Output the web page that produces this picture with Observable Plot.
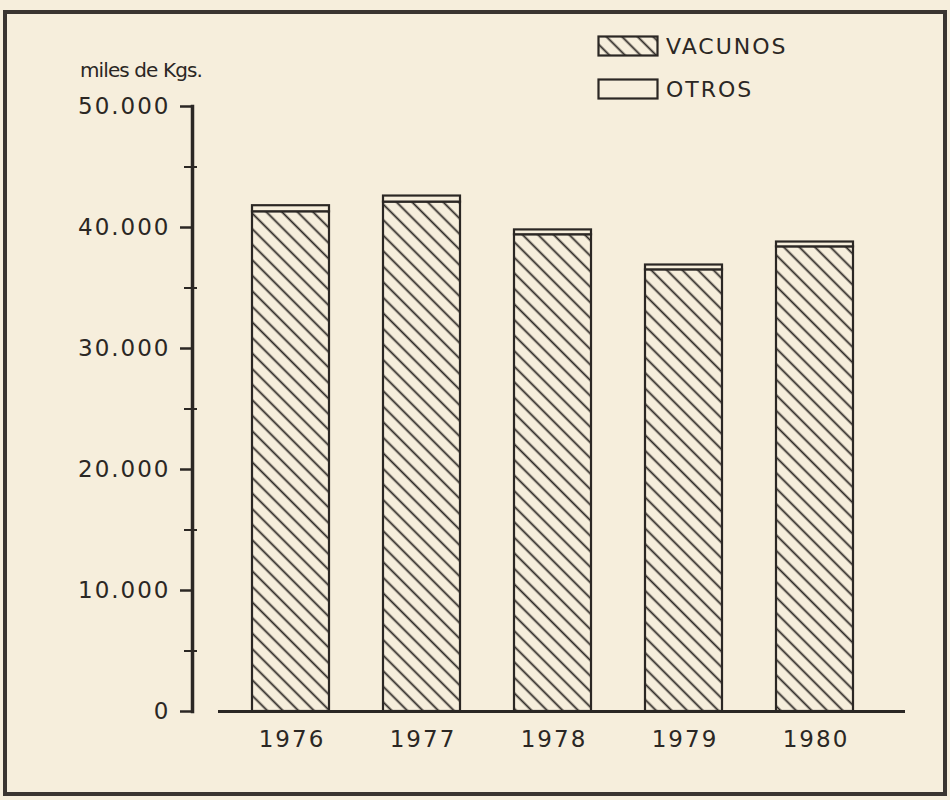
<!DOCTYPE html>
<html><head><meta charset="utf-8">
<script src="https://cdn.jsdelivr.net/npm/d3@7"></script>
<script src="https://cdn.jsdelivr.net/npm/@observablehq/plot@0.6"></script>
<style>
body{margin:0;background:#f6eedc;}
#wrap{position:relative;width:950px;height:800px;overflow:hidden;font-family:"DejaVu Sans",sans-serif;color:#2b2724;}
#chart{position:absolute;left:0;top:0;}
#chart svg text{letter-spacing:2px;}
#frame{position:absolute;left:3px;top:10px;width:936px;height:778px;border:4px solid #3a3531;pointer-events:none;}
#unit{position:absolute;left:80px;top:58px;font-size:20px;letter-spacing:-0.9px;}
#legend{position:absolute;left:597px;top:35px;}
.lg{display:flex;align-items:center;height:22px;margin-bottom:21px;}
.lg span{font-size:22px;letter-spacing:2px;margin-left:7px;}
</style></head>
<body><div id="wrap"><div id="chart"></div><div id="frame"></div><div id="unit">miles de Kgs.</div><div id="legend"></div></div>
<script>
const years = ["1976", "1977", "1978", "1979", "1980"];
const series = ["VACUNOS", "OTROS"];
const vacunos = [41300, 42100, 39400, 36500, 38400];
const otros = [500, 500, 400, 400, 400];
const yTicks = [0, 10000, 20000, 30000, 40000, 50000];
const yMinorTicks = [5000, 15000, 25000, 35000, 45000];

const ink = "#2b2724";
const paper = "#f6eedc";
const fills = {VACUNOS: "url(#hatch)", OTROS: paper};

const data = years.flatMap((year, i) => [
  {year, tipo: "VACUNOS", value: vacunos[i]},
  {year, tipo: "OTROS", value: otros[i]}
]);

const fmt = d => d3.format(",")(d).replace(/,/g, ".");

const chart = Plot.plot({
  width: 950,
  height: 800,
  marginLeft: 218,
  marginRight: 45,
  marginTop: 106,
  marginBottom: 89,
  style: {background: "transparent", color: ink, fontSize: "23px", fontFamily: "DejaVu Sans, sans-serif"},
  x: {domain: years, range: [218, 887], paddingInner: 0.415, paddingOuter: 0.25, label: null},
  y: {domain: [0, 50000], label: null},
  marks: [
    Plot.barY(data, Plot.stackY({
      x: "year", y: "value", order: series,
      fill: d => fills[d.tipo],
      stroke: ink, strokeWidth: 2.2
    })),
    Plot.ruleY([0], {stroke: ink, strokeWidth: 3}),
    Plot.frame({anchor: "left", dx: -26, stroke: ink, strokeWidth: 3.5}),
    Plot.axisY({ticks: yTicks, tickFormat: fmt, tickSize: 12, tickPadding: 10, dx: -26, strokeWidth: 2.5, stroke: ink, fill: ink, fontSize: 23}),
    Plot.axisY({ticks: yMinorTicks, tickFormat: () => "", tickSize: 13, dx: -21, strokeWidth: 2, stroke: ink}),
    Plot.axisX({tickSize: 0, tickPadding: 19, fill: ink, fontSize: 23, dx: 1})
  ]
});

// hatch pattern
const svg = d3.select(chart);
const defs = svg.insert("defs", ":first-child");
const pat = defs.append("pattern").attr("id", "hatch")
  .attr("patternUnits", "userSpaceOnUse").attr("width", 11).attr("height", 11)
  .attr("patternTransform", "rotate(-45)");
pat.append("rect").attr("width", 11).attr("height", 11).attr("fill", paper);
pat.append("line").attr("x1", 5.5).attr("x2", 5.5).attr("y1", 0).attr("y2", 11)
  .attr("stroke", ink).attr("stroke-width", 1.8);

document.getElementById("chart").appendChild(chart);

// legend
const legend = d3.select("#legend");
series.forEach(s => {
  const row = legend.append("div").attr("class", "lg");
  const sv = row.append("svg").attr("width", 62).attr("height", 22);
  const d = sv.append("defs").append("pattern").attr("id", "hatchL")
    .attr("patternUnits", "userSpaceOnUse").attr("width", 11).attr("height", 11)
    .attr("patternTransform", "rotate(-45)");
  d.append("rect").attr("width", 11).attr("height", 11).attr("fill", paper);
  d.append("line").attr("x1", 5.5).attr("x2", 5.5).attr("y1", 0).attr("y2", 11)
    .attr("stroke", ink).attr("stroke-width", 1.8);
  sv.append("rect").attr("x", 1.5).attr("y", 1.5).attr("width", 59).attr("height", 19)
    .attr("fill", s === "VACUNOS" ? "url(#hatchL)" : paper)
    .attr("stroke", ink).attr("stroke-width", 2.2);
  row.append("span").text(s);
});
</script>
</body></html>
